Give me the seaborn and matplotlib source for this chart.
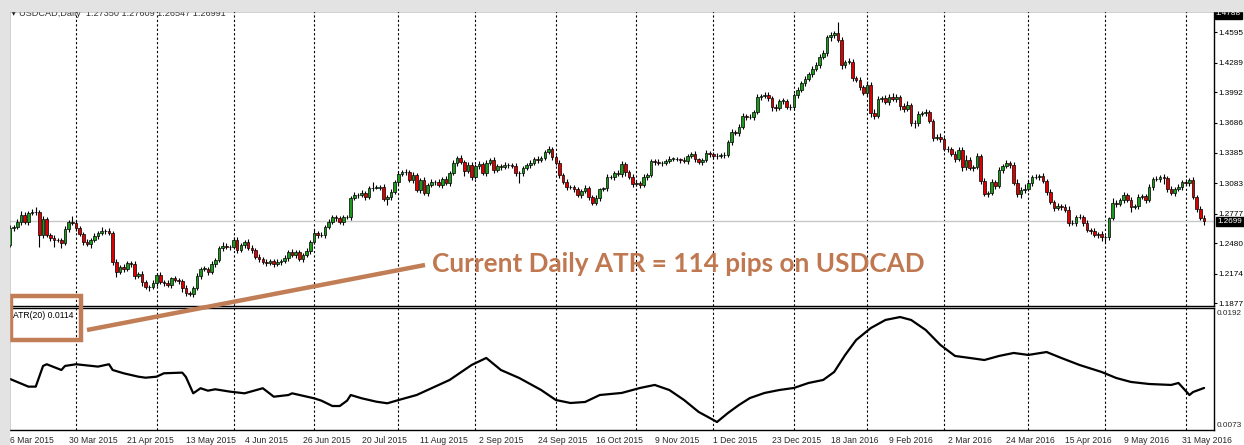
import matplotlib
matplotlib.use("Agg")
import matplotlib.pyplot as plt
import seaborn as sns
import numpy as np
import pandas as pd
from matplotlib.patches import Rectangle

# daily closes USDCAD, 6 Mar 2015 .. 8 Jun 2016 (open = previous close)
first_open = 1.2460
closes = [
    1.2627, 1.2637, 1.2694, 1.2761, 1.2694, 1.2784, 1.2794, 1.2788, 1.2560, 1.2717,
    1.2560, 1.2527, 1.2516, 1.2510, 1.2483, 1.2617, 1.2694, 1.2684, 1.2627, 1.2570,
    1.2493, 1.2476, 1.2516, 1.2550, 1.2577, 1.2600, 1.2600, 1.2577, 1.2292, 1.2192,
    1.2242, 1.2225, 1.2282, 1.2275, 1.2148, 1.2175, 1.2091, 1.2035, 1.2035, 1.2075,
    1.2158, 1.2091, 1.2075, 1.2058, 1.2125, 1.2108, 1.2098, 1.2025, 1.1975, 1.1968,
    1.2025, 1.2148, 1.2225, 1.2225, 1.2192, 1.2275, 1.2309, 1.2426, 1.2449, 1.2443,
    1.2436, 1.2516, 1.2410, 1.2460, 1.2493, 1.2426, 1.2409, 1.2342, 1.2325, 1.2290,
    1.2280, 1.2300, 1.2270, 1.2290, 1.2300, 1.2330, 1.2392, 1.2359, 1.2392, 1.2325,
    1.2359, 1.2402, 1.2493, 1.2586, 1.2559, 1.2559, 1.2643, 1.2693, 1.2744, 1.2727,
    1.2693, 1.2744, 1.2744, 1.2928, 1.2961, 1.2961, 1.2985, 1.2944, 1.3028, 1.3038,
    1.3038, 1.3045, 1.2918, 1.2944, 1.2995, 1.3095, 1.3172, 1.3195, 1.3195, 1.3112,
    1.3162, 1.3011, 1.3118, 1.2978, 1.3062, 1.3095, 1.3095, 1.3062, 1.3128, 1.3085,
    1.3185, 1.3286, 1.3339, 1.3296, 1.3205, 1.3262, 1.3139, 1.3252, 1.3272, 1.3179,
    1.3279, 1.3313, 1.3212, 1.3253, 1.3239, 1.3263, 1.3263, 1.3253, 1.3179, 1.3186,
    1.3229, 1.3263, 1.3279, 1.3329, 1.3313, 1.3339, 1.3396, 1.3423, 1.3346, 1.3279,
    1.3162, 1.3095, 1.3045, 1.3045, 1.3018, 1.2961, 1.3005, 1.3038, 1.2938, 1.2878,
    1.2928, 1.3018, 1.3028, 1.3139, 1.3139, 1.3186, 1.3172, 1.3273, 1.3196, 1.3145,
    1.3072, 1.3085, 1.3062, 1.3145, 1.3162, 1.3306, 1.3296, 1.3286, 1.3279, 1.3306,
    1.3329, 1.3329, 1.3319, 1.3313, 1.3306, 1.3353, 1.3373, 1.3319, 1.3296, 1.3313,
    1.3380, 1.3373, 1.3353, 1.3353, 1.3363, 1.3363, 1.3497, 1.3597, 1.3587, 1.3648,
    1.3755, 1.3741, 1.3741, 1.3798, 1.3942, 1.3956, 1.3966, 1.3932, 1.3848, 1.3832,
    1.3909, 1.3909, 1.3848, 1.3842, 1.3966, 1.4016, 1.4083, 1.4123, 1.4176, 1.4223,
    1.4267, 1.4344, 1.4384, 1.4545, 1.4568, 1.4585, 1.4518, 1.4267, 1.4300, 1.4300,
    1.4133, 1.4116, 1.4049, 1.3982, 1.4066, 1.3788, 1.3755, 1.3922, 1.3932, 1.3899,
    1.3942, 1.3922, 1.3942, 1.3855, 1.3822, 1.3865, 1.3681, 1.3681, 1.3775, 1.3781,
    1.3798, 1.3708, 1.3530, 1.3540, 1.3520, 1.3420, 1.3420, 1.3373, 1.3320, 1.3413,
    1.3246, 1.3313, 1.3229, 1.3239, 1.3353, 1.3106, 1.2972, 1.2978, 1.3096, 1.3052,
    1.3213, 1.3253, 1.3286, 1.3263, 1.3086, 1.2972, 1.3012, 1.3019, 1.3086, 1.3139,
    1.3139, 1.3152, 1.3106, 1.2995, 1.2895, 1.2828, 1.2851, 1.2845, 1.2811, 1.2677,
    1.2677, 1.2744, 1.2738, 1.2677, 1.2610, 1.2604, 1.2560, 1.2570, 1.2543, 1.2543,
    1.2727, 1.2878, 1.2871, 1.2911, 1.2962, 1.2911, 1.2845, 1.2851, 1.2945, 1.2952,
    1.2911, 1.3039, 1.3119, 1.3119, 1.3139, 1.3129, 1.3019, 1.2985, 1.3019, 1.3045,
    1.3096, 1.3086, 1.3113, 1.2938, 1.2818, 1.2735, 1.2699,
]

# wick lengths above / below the body, in 10-pip units
hi_wick = [
    3, 2, 3, 4, 3, 2, 3, 5, 2, 4, 3, 2, 3, 2, 2, 3, 2, 6, 3, 2,
    2, 3, 2, 3, 2, 4, 2, 3, 2, 3, 2, 3, 2, 2, 3, 2, 3, 2, 2, 3,
    2, 3, 2, 3, 2, 3, 2, 2, 3, 2, 2, 3, 2, 3, 2, 3, 2, 3, 4, 3,
    2, 3, 3, 2, 2, 3, 4, 2, 3, 2, 3, 2, 2, 3, 2, 3, 2, 3, 2, 2,
    2, 3, 2, 3, 2, 3, 2, 3, 2, 2, 3, 2, 2, 2, 3, 2, 3, 2, 3, 6,
    3, 2, 3, 2, 3, 2, 3, 2, 3, 2, 3, 2, 2, 3, 2, 3, 2, 3, 2, 3,
    2, 3, 2, 3, 2, 3, 3, 2, 3, 2, 3, 2, 3, 2, 2, 3, 2, 2, 3, 2,
    2, 2, 3, 2, 3, 2, 2, 3, 2, 2, 3, 2, 3, 2, 2, 3, 2, 3, 2, 2,
    3, 2, 2, 3, 2, 2, 3, 3, 2, 2, 3, 2, 2, 3, 2, 2, 2, 3, 2, 2,
    3, 2, 2, 2, 3, 2, 2, 3, 2, 2, 3, 2, 2, 3, 2, 3, 2, 3, 2, 3,
    3, 2, 3, 2, 3, 2, 3, 3, 2, 3, 2, 3, 2, 3, 2, 3, 2, 3, 2, 3,
    3, 3, 3, 2, 3, 2, 11, 3, 2, 4, 3, 2, 3, 2, 4, 3, 4, 3, 2, 3,
    3, 4, 3, 2, 3, 4, 2, 3, 3, 2, 3, 2, 2, 3, 4, 2, 3, 2, 3, 3,
    3, 5, 3, 2, 3, 2, 3, 2, 3, 2, 3, 2, 3, 2, 3, 4, 3, 5, 3, 2,
    3, 2, 3, 2, 3, 2, 3, 2, 3, 4, 3, 2, 3, 2, 3, 2, 3, 2, 3, 2,
    2, 5, 3, 2, 3, 2, 3, 2, 3, 2, 2, 3, 2, 3, 2, 3, 2, 3, 2, 3,
    2, 3, 2, 3, 2, 3, 3,
]
lo_wick = [
    2, 3, 2, 3, 2, 3, 2, 3, 12, 3, 2, 3, 8, 2, 5, 2, 3, 2, 3, 2,
    3, 2, 5, 2, 3, 2, 3, 2, 3, 5, 2, 3, 2, 3, 3, 2, 4, 2, 4, 2,
    3, 2, 3, 2, 3, 2, 3, 4, 3, 2, 3, 2, 3, 2, 3, 2, 3, 2, 3, 2,
    3, 2, 3, 2, 3, 2, 3, 2, 3, 2, 3, 2, 3, 2, 3, 2, 3, 2, 3, 2,
    3, 2, 3, 2, 3, 2, 3, 2, 2, 3, 2, 3, 2, 3, 2, 3, 2, 3, 2, 3,
    2, 3, 2, 6, 3, 2, 3, 2, 3, 2, 3, 2, 3, 2, 3, 2, 3, 2, 3, 2,
    3, 2, 3, 2, 5, 2, 3, 2, 3, 2, 3, 2, 3, 2, 3, 2, 3, 2, 3, 10,
    3, 2, 3, 2, 3, 2, 3, 2, 3, 2, 3, 2, 3, 2, 3, 2, 3, 2, 3, 2,
    2, 3, 2, 3, 2, 3, 2, 3, 4, 2, 3, 2, 3, 2, 3, 2, 3, 2, 3, 2,
    2, 3, 2, 3, 2, 3, 2, 3, 2, 3, 2, 3, 2, 3, 2, 3, 2, 3, 2, 3,
    2, 3, 2, 3, 2, 3, 2, 3, 4, 3, 2, 3, 2, 3, 2, 3, 2, 3, 2, 3,
    2, 3, 2, 3, 4, 3, 2, 4, 3, 2, 3, 2, 3, 2, 3, 4, 3, 2, 3, 2,
    3, 2, 3, 4, 3, 2, 3, 5, 3, 2, 3, 2, 3, 2, 3, 2, 3, 2, 3, 2,
    4, 3, 2, 3, 2, 3, 2, 3, 2, 3, 2, 3, 2, 3, 2, 3, 4, 3, 2, 3,
    2, 3, 2, 3, 2, 3, 2, 3, 2, 3, 2, 3, 2, 3, 2, 3, 2, 3, 4, 6,
    3, 2, 3, 2, 3, 2, 5, 2, 3, 2, 3, 2, 3, 2, 3, 6, 3, 2, 3, 2,
    3, 2, 3, 2, 3, 2, 4,
]

# ATR(20) (bar index, value)
atr_bar = [0, 5, 7, 9, 10, 14, 15, 18, 24, 27, 28, 31, 35, 37, 40, 42, 47, 48,
           50, 52, 54, 56, 60, 64, 69, 72, 76, 77, 83, 85, 88, 90, 92, 93, 96,
           100, 103, 106, 111, 120, 126, 130, 134, 139, 145, 149, 153, 157, 161, 167,
           172, 176, 180, 184, 188, 192, 193, 196, 199, 202, 206, 210, 214, 218,
           222, 225, 228, 231, 235, 239, 243, 246, 250, 254, 258, 262, 266, 270,
           274, 278, 283, 287, 292, 298, 302, 306, 311, 317, 319, 322, 323, 326]
atr_val = [0.01218, 0.01137, 0.01137, 0.01357, 0.01375, 0.01314, 0.01357, 0.01375,
           0.01350, 0.01375, 0.01314, 0.01279, 0.01243, 0.01232, 0.01243, 0.01279,
           0.01286, 0.01240, 0.01066, 0.01120, 0.01094, 0.01109, 0.01084, 0.01066,
           0.01120, 0.01030, 0.01048, 0.01066, 0.01013, 0.00988, 0.00931, 0.00931,
           0.00988, 0.01048, 0.01013, 0.00977, 0.00960, 0.00994,
           0.01048, 0.01208, 0.01367, 0.01442,
           0.01314, 0.01229, 0.01101, 0.00995, 0.00963, 0.00974, 0.01048, 0.01070,
           0.01123, 0.01155, 0.01101, 0.00995, 0.00868, 0.00783, 0.00761, 0.00857,
           0.00942, 0.01016, 0.01070, 0.01101, 0.01123, 0.01176, 0.01208, 0.01293,
           0.01474, 0.01633, 0.01760, 0.01846, 0.01877, 0.01846, 0.01739, 0.01580,
           0.01463, 0.01442, 0.01420, 0.01463, 0.01495, 0.01474, 0.01505, 0.01442,
           0.01367, 0.01293, 0.01229, 0.01187, 0.01165, 0.01155, 0.01176, 0.01048,
           0.01080, 0.01123]

price_ticks = [1.4595, 1.4289, 1.3992, 1.3686, 1.3385, 1.3083, 1.2777, 1.2480, 1.2174, 1.1877]
atr_ticks = [0.0192, 0.0073]
title_txt = "USDCAD,Daily  1.27350 1.27609 1.26547 1.26991"

dates = pd.bdate_range("2015-03-06", "2016-06-08")
dates = dates[~dates.isin(pd.to_datetime(["2015-12-25", "2016-01-01"]))]
n = len(closes)
idx = np.arange(n)
c = np.array(closes)
o = np.concatenate([[first_open], c[:-1]])
hi = np.maximum(o, c) + np.array(hi_wick) * 0.001
lo = np.minimum(o, c) - np.array(lo_wick) * 0.001

sns.set_style("white")
plt.rcParams["font.family"] = ["Liberation Sans", "DejaVu Sans"]
small = 6.2
rsmall = 5.9  # right-hand price scale

W, H = 1244, 445
fig = plt.figure(figsize=(W / 100, H / 100), dpi=100)
fig.patch.set_facecolor("white")

def fx(px):
    return px / W

def fy(py):
    return 1 - py / H

# grey window background on left/top
fig.patches.append(Rectangle((0, fy(11)), 1, 11 / H, transform=fig.transFigure,
                             color="#e3e3e3", zorder=0))
fig.patches.append(Rectangle((0, 0), fx(9), 1, transform=fig.transFigure,
                             color="#e3e3e3", zorder=0))

ax = fig.add_axes([fx(9), fy(306), fx(1214 - 9), (306 - 11) / H])
ax2 = fig.add_axes([fx(9), fy(430), fx(1214 - 9), (430 - 308) / H])

month_start = [i for i in range(1, n) if dates[i].month != dates[i - 1].month]
for a in (ax, ax2):
    for m in month_start:
        a.axvline(m, color="black", lw=0.8, ls=(0, (2, 2)), zorder=1)
    for s in a.spines.values():
        s.set_color("black")
        s.set_linewidth(1)
    a.set_xlim(-0.3, 328.7)

# candles
up = c >= o
ax.axhline(closes[-1], color="#c8c8c8", lw=1, zorder=1)
ax.vlines(idx, lo, hi, color="black", lw=0.8, zorder=2)
body = np.maximum(np.abs(c - o), 0.0003)
ax.bar(idx, body, bottom=np.minimum(o, c), width=0.72,
       color=np.where(up, "#1c9a1c", "#dd0000"), edgecolor="black", lw=0.5, zorder=3)
ax.set_ylim(1.1849, 1.4809)
ax.yaxis.tick_right()
ax.set_yticks(price_ticks)
ax.set_yticklabels([f"{v:.4f}" for v in price_ticks])
ax.tick_params(axis="y", length=2.5, width=0.8, labelsize=rsmall, pad=1, colors="black")
ax.set_xticks([])
ax.text(1.0015, 0.99, "1.4788", transform=ax.transAxes, fontsize=rsmall, color="white",
        va="center", ha="left", bbox=dict(boxstyle="square,pad=0.15", fc="black", ec="black"))
ax.text(328.7 + 1.0, closes[-1], f"{closes[-1]:.4f}", fontsize=rsmall, color="white",
        va="center", ha="left", clip_on=False,
        bbox=dict(boxstyle="square,pad=0.15", fc="black", ec="black"))

# ATR panel
sns.lineplot(x=atr_bar, y=atr_val, ax=ax2, color="black", lw=1.6, zorder=3)
ax2.set_ylim(0.00676, 0.01973)
ax2.yaxis.tick_right()
ax2.set_yticks(atr_ticks)
ax2.set_yticklabels([f"{v:.4f}" for v in atr_ticks])
ax2.tick_params(axis="y", length=0, labelsize=rsmall, pad=2)
ax2.set_ylabel("")
lab_idx = list(range(0, n, 16))
ax2.set_xticks(lab_idx)
ax2.set_xticklabels([f"{dates[i].day} {dates[i].strftime('%b %Y')}" for i in lab_idx],
                    ha="left")
ax2.tick_params(axis="x", length=3, width=0.8, labelsize=small, pad=1)

# overlay in pixel coords for texts and annotation
ov = fig.add_axes([0, 0, 1, 1], facecolor="none")
ov.set_xlim(0, W)
ov.set_ylim(H, 0)
ov.axis("off")
ov.text(11, 13, "\u25bc", fontsize=5, color="#222", va="center", ha="left",
        family=["DejaVu Sans"])
ov.text(19, 13.5, title_txt, fontsize=6.6, color="#333", va="center", ha="left")
ov.text(13, 316, "ATR(20) 0.0114", fontsize=small, color="black", va="center", ha="left")
brown = "#c17d55"
ov.add_patch(Rectangle((11, 296), 70, 44, fill=False, ec=brown, lw=3.2))
ov.plot([87, 425], [330, 265], color=brown, lw=3.2, solid_capstyle="butt")
ov.text(432, 264, "Current Daily ATR = 114 pips on USDCAD", fontsize=18.8,
        fontweight="bold", family=["Lato", "DejaVu Sans"], color="#c07850",
        va="center", ha="left")

fig.savefig("out.png", dpi=100)
